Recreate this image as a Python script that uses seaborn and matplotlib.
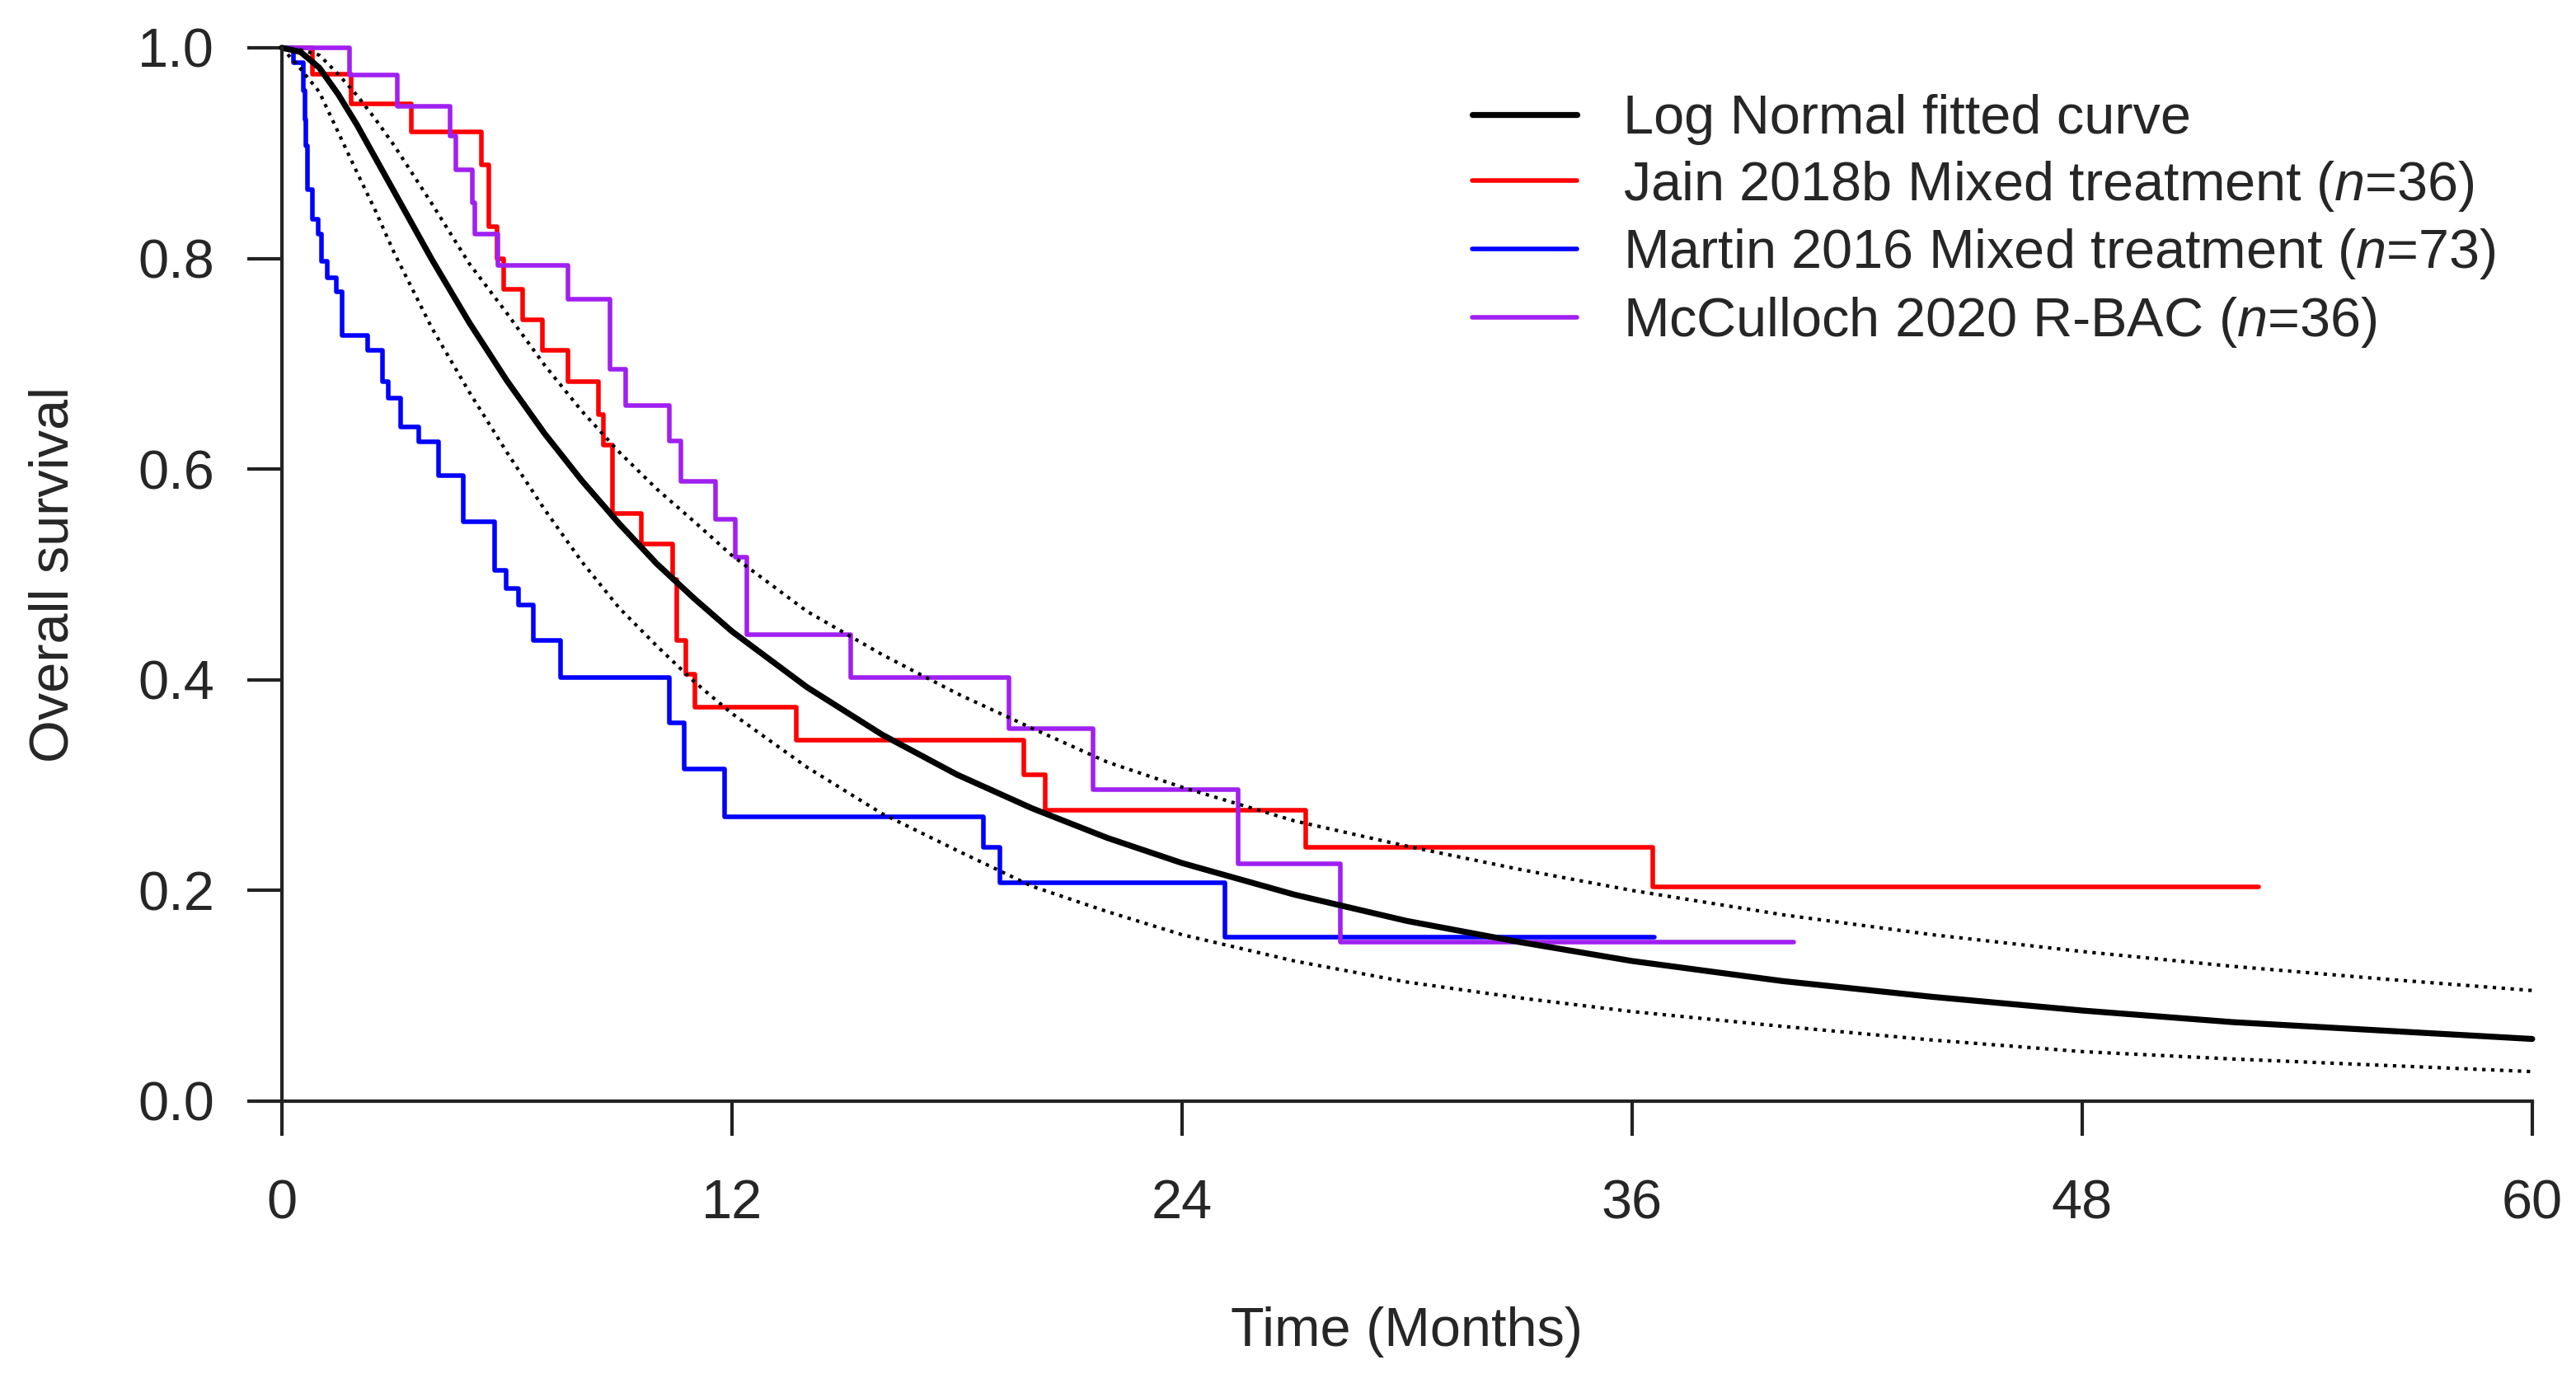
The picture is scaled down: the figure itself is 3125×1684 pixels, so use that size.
"""Kaplan-Meier curves vs. log-normal fit (overall survival)."""

import matplotlib

matplotlib.use("Agg")

import matplotlib.pyplot as plt
import pandas as pd
import seaborn as sns

# --- data ---------------------------------------------------------------------
jain_months = [0, 0.82, 1.85, 3.45, 5.33, 5.52, 5.74, 5.92, 6.43, 6.95, 7.63, 8.45,
               8.57, 8.81, 9.58, 10.41, 10.53, 10.77, 11.02, 13.71, 19.78, 20.36,
               27.29, 36.56, 52.7]
jain_surv = [1.0, 0.975, 0.947, 0.920, 0.889, 0.830, 0.800, 0.771, 0.742, 0.713, 0.683,
             0.652, 0.623, 0.558, 0.529, 0.495, 0.437, 0.405, 0.374, 0.343, 0.310,
             0.276, 0.241, 0.203, 0.203]

martin_months = [0, 0.30, 0.58, 0.61, 0.64, 0.69, 0.81, 0.96, 1.06, 1.21, 1.45, 1.60,
                 2.29, 2.68, 2.83, 3.17, 3.66, 4.17, 4.84, 5.67, 5.97, 6.31, 6.70,
                 7.44, 10.33, 10.73, 11.80, 18.70, 19.15, 25.15, 36.6]
martin_surv = [1.0, 0.986, 0.959, 0.932, 0.907, 0.865, 0.837, 0.823, 0.797, 0.782,
               0.768, 0.727, 0.713, 0.683, 0.667, 0.640, 0.626, 0.594, 0.550, 0.504,
               0.487, 0.471, 0.437, 0.402, 0.359, 0.315, 0.270, 0.241, 0.207, 0.156,
               0.156]

mcc_months = [0, 1.80, 3.07, 4.49, 4.64, 5.08, 5.15, 5.77, 7.63, 8.76, 9.16, 10.33,
              10.63, 11.56, 12.10, 12.40, 15.16, 19.38, 21.63, 25.49, 28.23, 40.3]
mcc_surv = [1.0, 0.974, 0.944, 0.916, 0.884, 0.853, 0.823, 0.793, 0.761, 0.695, 0.660,
            0.627, 0.588, 0.552, 0.516, 0.443, 0.402, 0.354, 0.296, 0.225, 0.151, 0.151]

fit_months = [0, 0.5, 1, 1.5, 2, 2.5, 3, 4, 5, 6, 7, 8, 9, 10, 11, 12, 14, 16, 18, 20,
              22, 24, 27, 30, 33, 36, 40, 44, 48, 52, 56, 60]
fit_surv = [1.0, 0.996, 0.981, 0.956, 0.927, 0.895, 0.863, 0.799, 0.739, 0.684, 0.634,
            0.589, 0.548, 0.510, 0.477, 0.446, 0.393, 0.348, 0.310, 0.278, 0.250,
            0.226, 0.196, 0.171, 0.151, 0.133, 0.114, 0.099, 0.086, 0.075, 0.067, 0.059]
fit_upper = [1.0, 0.998, 0.993, 0.975, 0.955, 0.932, 0.907, 0.852, 0.795, 0.748, 0.699,
             0.655, 0.616, 0.581, 0.550, 0.518, 0.465, 0.424, 0.387, 0.354, 0.322,
             0.298, 0.266, 0.242, 0.220, 0.200, 0.177, 0.158, 0.142, 0.128, 0.116, 0.105]
fit_lower = [1.0, 0.980, 0.958, 0.920, 0.882, 0.845, 0.805, 0.734, 0.673, 0.616, 0.562,
             0.512, 0.468, 0.432, 0.398, 0.368, 0.317, 0.273, 0.238, 0.204, 0.180,
             0.158, 0.133, 0.113, 0.098, 0.085, 0.071, 0.058, 0.047, 0.040, 0.034, 0.028]

x_ticks = [0, 12, 24, 36, 48, 60]
y_ticks = [0.0, 0.2, 0.4, 0.6, 0.8, 1.0]

labels = {
    "fit": "Log Normal fitted curve",
    "jain": r"Jain 2018b Mixed treatment ($\mathit{n}$=36)",
    "martin": r"Martin 2016 Mixed treatment ($\mathit{n}$=73)",
    "mcc": r"McCulloch 2020 R-BAC ($\mathit{n}$=36)",
}
colors = {"fit": "black", "jain": "#ff0000", "martin": "#0000ff", "mcc": "#a020f0"}


def main() -> None:
    sns.set_style("ticks")
    plt.rcParams["font.family"] = ["Liberation Sans", "DejaVu Sans"]
    plt.rcParams["mathtext.fontset"] = "custom"
    plt.rcParams["mathtext.rm"] = "Liberation Sans"
    plt.rcParams["mathtext.it"] = "Liberation Sans:italic"

    fs = 48
    fig = plt.figure(figsize=(31.25, 16.84), dpi=100)
    ax = fig.add_axes([0.1094, 0.2067, 0.8736, 0.7589])

    step_kw = dict(drawstyle="steps-post", linewidth=4, estimator=None, sort=False,
                   clip_on=False, legend=False)
    handles = {}
    for key, months, surv in [("jain", jain_months, jain_surv),
                              ("martin", martin_months, martin_surv),
                              ("mcc", mcc_months, mcc_surv)]:
        df = pd.DataFrame({"month": months, "survival": surv})
        sns.lineplot(data=df, x="month", y="survival", ax=ax, color=colors[key], **step_kw)
        handles[key] = ax.lines[-1]

    fit_df = pd.DataFrame({"month": fit_months, "fit": fit_surv,
                           "upper": fit_upper, "lower": fit_lower})
    for col in ["upper", "lower"]:
        sns.lineplot(data=fit_df, x="month", y=col, ax=ax, color="black", linewidth=3,
                     linestyle=(0, (1, 1.6)), estimator=None, sort=False,
                     clip_on=False, legend=False)
    sns.lineplot(data=fit_df, x="month", y="fit", ax=ax, color="black", linewidth=5.2,
                 estimator=None, sort=False, clip_on=False, legend=False)
    handles["fit"] = ax.lines[-1]

    ax.set_xlim(0, 60)
    ax.set_ylim(0, 1)
    ax.set_xticks(x_ticks)
    ax.set_xticklabels([str(t) for t in x_ticks])
    ax.set_yticks(y_ticks)
    ax.set_yticklabels([f"{t:.1f}" for t in y_ticks])
    ax.tick_params(axis="both", labelsize=fs, length=30, width=3, color="#222222")
    ax.tick_params(axis="x", pad=38)
    ax.tick_params(axis="y", pad=29)
    for side in ["top", "right"]:
        ax.spines[side].set_visible(False)
    for side in ["left", "bottom"]:
        ax.spines[side].set_linewidth(3)
        ax.spines[side].set_color("#222222")

    ax.set_xlabel("Time (Months)", fontsize=fs)
    ax.set_ylabel("Overall survival", fontsize=fs)
    ax.xaxis.set_label_coords(0.5, -0.195)
    ax.yaxis.set_label_coords(-0.0897, 0.5)

    order = ["fit", "jain", "martin", "mcc"]
    ax.legend([handles[k] for k in order], [labels[k] for k in order],
              loc="upper left", bbox_to_anchor=(0.529, 0.956), frameon=False,
              fontsize=fs, handlelength=1.9, handletextpad=0.85, labelspacing=0.25,
              borderpad=0, borderaxespad=0)

    fig.savefig("out.png", dpi=100, facecolor="white")
    plt.close(fig)


if __name__ == "__main__":
    main()
